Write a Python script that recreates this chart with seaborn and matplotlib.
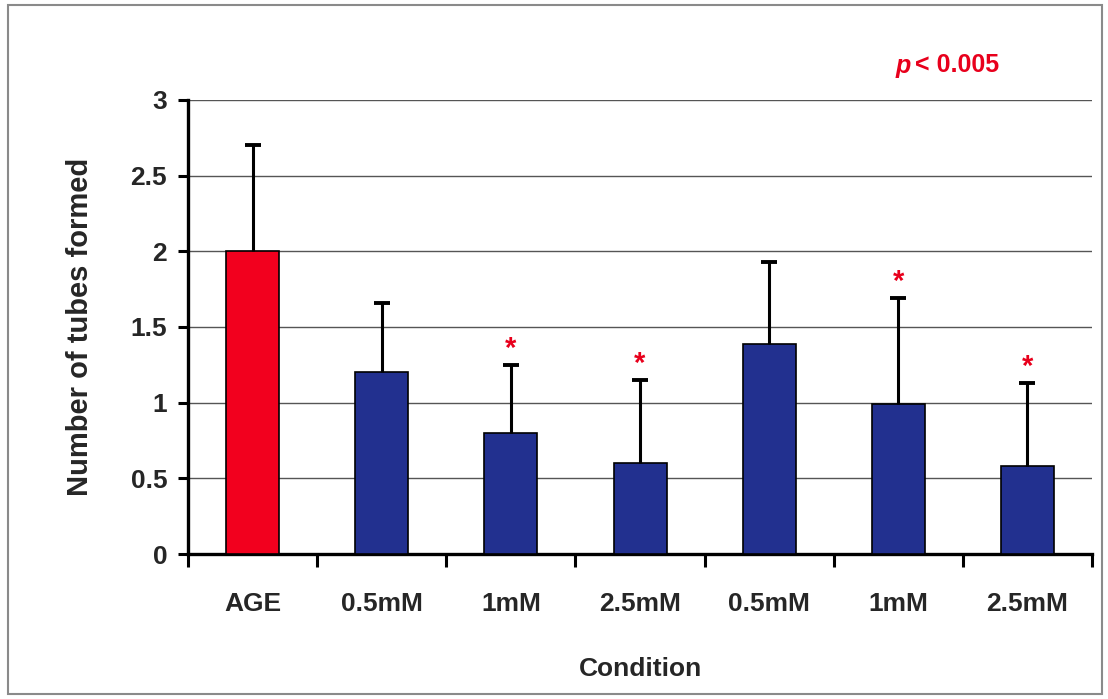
import matplotlib
matplotlib.use("Agg")
import matplotlib.pyplot as plt
import matplotlib.patches as mpatches
import numpy as np
import pandas as pd
import seaborn as sns

# Tube formation per condition (mean and upper SD)
conditions = ["AGE", "0.5mM", "1mM", "2.5mM", "0.5mM", "1mM", "2.5mM"]
means = [2.0, 1.2, 0.8, 0.6, 1.39, 0.99, 0.58]
errors = [0.70, 0.46, 0.45, 0.55, 0.54, 0.70, 0.55]
significant = [False, False, True, True, False, True, True]
bar_colors = ["#F2001E", "#22308F", "#22308F", "#22308F", "#22308F", "#22308F", "#22308F"]
y_ticks = [0, 0.5, 1, 1.5, 2, 2.5, 3]
y_tick_labels = ["0", "0.5", "1", "1.5", "2", "2.5", "3"]

sns.set_theme(style="white")
plt.rcParams["font.family"] = ["Liberation Sans", "DejaVu Sans"]

df = pd.DataFrame({
    "slot": [f"c{i}" for i in range(len(conditions))],
    "mean": means,
})

fig = plt.figure(figsize=(11.08, 6.99), dpi=100)
ax = fig.add_axes([0.1697, 0.2074, 0.8159, 0.6496])

sns.barplot(data=df, x="slot", y="mean", hue="slot", palette=bar_colors,
            legend=False, width=0.41, edgecolor="black", linewidth=1.2,
            saturation=1, ax=ax, zorder=3)

xs = np.arange(len(conditions))
_, caps, _ = ax.errorbar(xs, means, yerr=[np.zeros(len(errors)), errors], fmt="none",
                         ecolor="black", elinewidth=2.2, capsize=6, capthick=2.8,
                         zorder=4)
# only the upper cap is shown
caps[0].set_visible(False)

for x, m, e, s in zip(xs, means, errors, significant):
    if s:
        ax.text(x, m + e + 0.015, "*", color="#E8001C", fontsize=21,
                fontweight="bold", ha="center", va="bottom", zorder=5)

ax.set_xlim(-0.5, len(conditions) - 0.5)
ax.set_ylim(0, 3)
ax.set_yticks(y_ticks)
ax.set_yticklabels(y_tick_labels, fontsize=19, fontweight="bold")

# Boundary ticks between categories; labels centred on the bars
ax.set_xticks(np.arange(len(conditions) + 1) - 0.5)
ax.set_xticklabels([])
ax.set_xticks(xs, minor=True)
ax.set_xticklabels(conditions, minor=True, fontsize=19, fontweight="bold")
ax.tick_params(axis="x", which="major", direction="out", length=9, width=2.2,
               color="black", bottom=True)
ax.tick_params(axis="x", which="minor", length=0, pad=27)
ax.tick_params(axis="y", direction="out", length=7, width=2.2, color="black",
               left=True, pad=8)

ax.yaxis.grid(True, color="#555555", linewidth=1.0, zorder=0)
ax.xaxis.grid(False)
ax.set_axisbelow(True)

for side in ["top", "right"]:
    ax.spines[side].set_visible(False)
for side in ["left", "bottom"]:
    ax.spines[side].set_color("black")
    ax.spines[side].set_linewidth(2.4)

ax.set_xlabel("Condition", fontsize=19, fontweight="bold", labelpad=30)
ax.set_ylabel("Number of tubes formed", fontsize=21, fontweight="bold", labelpad=26)

fig.text(0.808, 0.905, "p", color="#E8001C", fontsize=18, fontweight="bold",
         fontstyle="italic", ha="left", va="center")
fig.text(0.826, 0.907, "< 0.005", color="#E8001C", fontsize=18,
         fontweight="bold", ha="left", va="center")

# Outer frame
fig.add_artist(mpatches.Rectangle((0.007, 0.007), 0.988, 0.986, transform=fig.transFigure,
                                  fill=False, edgecolor="#8a8a8a", linewidth=1.5))

fig.savefig("out.png", dpi=100)
